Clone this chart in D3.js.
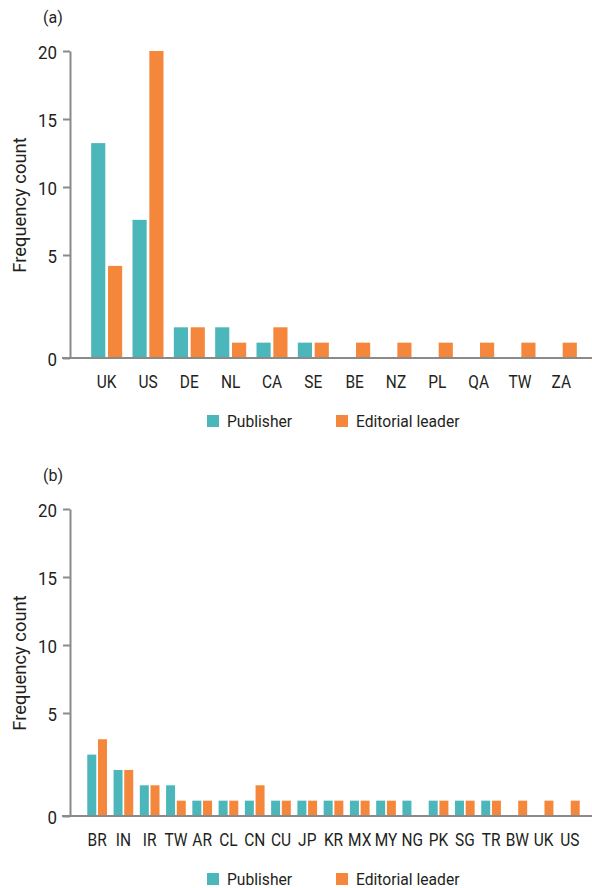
<!DOCTYPE html>
<html>
<head>
<meta charset="utf-8">
<script src="https://cdn.jsdelivr.net/npm/d3@7"></script>
<style>
  body { margin: 0; background: #fff; }
  text { font-family: Roboto, "Liberation Sans", sans-serif; fill: #231f20; }
</style>
</head>
<body>
<div id="chart"></div>
<script>
const seriesNames = ['Publisher', 'Editorial leader'];
const seriesColors = ['#4bb7bb', '#f5873d'];
const yTicks = [0, 5, 10, 15, 20];

const countriesA = ['UK', 'US', 'DE', 'NL', 'CA', 'SE', 'BE', 'NZ', 'PL', 'QA', 'TW', 'ZA'];
const publisherA = [14, 9, 2, 2, 1, 1, 0, 0, 0, 0, 0, 0];
const editorA    = [6, 20, 2, 1, 2, 1, 1, 1, 1, 1, 1, 1];

const countriesB = ['BR', 'IN', 'IR', 'TW', 'AR', 'CL', 'CN', 'CU', 'JP', 'KR', 'MX', 'MY', 'NG', 'PK', 'SG', 'TR', 'BW', 'UK', 'US'];
const publisherB = [4, 3, 2, 2, 1, 1, 1, 1, 1, 1, 1, 1, 1, 1, 1, 1, 0, 0, 0];
const editorB    = [5, 3, 2, 1, 1, 1, 2, 1, 1, 1, 1, 1, 0, 1, 1, 1, 1, 1, 1];

const W = 592, H = 888;
const svg = d3.select('#chart').append('svg')
    .attr('width', W).attr('height', H);

// the original uses a condensed face, so squeeze the text a bit horizontally
const place = (x, y, sx) => `translate(${x},${y}) scale(${sx},1)`;

function panel(label, cats, pub, edi, base, x0, x1) {
  const g = svg.append('g');
  const top = base - 307;
  const rows = cats.map((c, i) => ({cat: c, vals: [pub[i], edi[i]]}));

  // bars are linear in the counts
  const y = d3.scaleLinear().domain([0, 20]).range([base, top]);
  // the printed axis has a wider gap between 0 and 5 than between the other ticks
  const yAxis = d3.scaleLinear().domain([0, 5, 20]).range([base, base - 103, top]);

  const x = d3.scaleBand().domain(cats).range([x0, x1])
      .paddingInner(0.25).paddingOuter(0.125);
  const xs = d3.scaleBand().domain(d3.range(seriesNames.length))
      .range([0, x.bandwidth()]).paddingInner(0.16);

  g.selectAll('g.grp').data(rows).join('g')
      .attr('class', 'grp')
      .attr('transform', d => `translate(${x(d.cat)},0)`)
    .selectAll('rect').data(d => d.vals).join('rect')
      .attr('x', (v, j) => xs(j))
      .attr('width', xs.bandwidth())
      .attr('y', v => y(v))
      .attr('height', v => base - y(v))
      .attr('fill', (v, j) => seriesColors[j]);

  // baseline across the plot
  g.append('line')
      .attr('x1', 62).attr('x2', W)
      .attr('y1', base).attr('y2', base)
      .attr('stroke', '#8a8a8a').attr('stroke-width', 2);

  const ax = g.append('g').attr('transform', 'translate(70,0)')
      .call(d3.axisLeft(yAxis).tickValues(yTicks).tickSize(7).tickSizeOuter(0));
  ax.select('.domain').attr('stroke', '#8a8a8a').attr('stroke-width', 2);
  ax.selectAll('.tick line').attr('stroke', '#8a8a8a').attr('stroke-width', 2);
  ax.selectAll('.tick text')
      .attr('x', null).attr('dy', '0.36em')
      .attr('transform', place(-13, 1, 0.94))
      .attr('fill', '#231f20')
      .style('font-family', 'Roboto, sans-serif')
      .style('font-size', '18px');

  g.selectAll('text.xl').data(cats).join('text')
      .attr('class', 'xl')
      .attr('transform', d => place(x(d) + x.bandwidth() / 2, base + 30, 0.86))
      .attr('text-anchor', 'middle')
      .style('font-size', '18px')
      .text(d => d);

  g.append('text')
      .attr('transform', `translate(26,${base - 153}) rotate(-90)`)
      .attr('text-anchor', 'middle')
      .style('font-size', '18.4px')
      .text('Frequency count');

  g.append('text')
      .attr('x', 43).attr('y', top - 28)
      .style('font-size', '16px')
      .text(label);

  // legend
  const legX = [207, 336];
  const leg = g.selectAll('g.leg').data(seriesNames).join('g')
      .attr('class', 'leg')
      .attr('transform', (d, i) => `translate(${legX[i]},${base + 57})`);
  leg.append('rect')
      .attr('width', 12).attr('height', 12)
      .attr('fill', (d, i) => seriesColors[i]);
  leg.append('text')
      .attr('transform', place(20, 12, 0.92))
      .style('font-size', '17px')
      .text(d => d);
}

panel('(a)', countriesA, publisherA, editorA, 358, 86, 582);
panel('(b)', countriesB, publisherB, editorB, 816, 84, 583);
</script>
</body>
</html>
